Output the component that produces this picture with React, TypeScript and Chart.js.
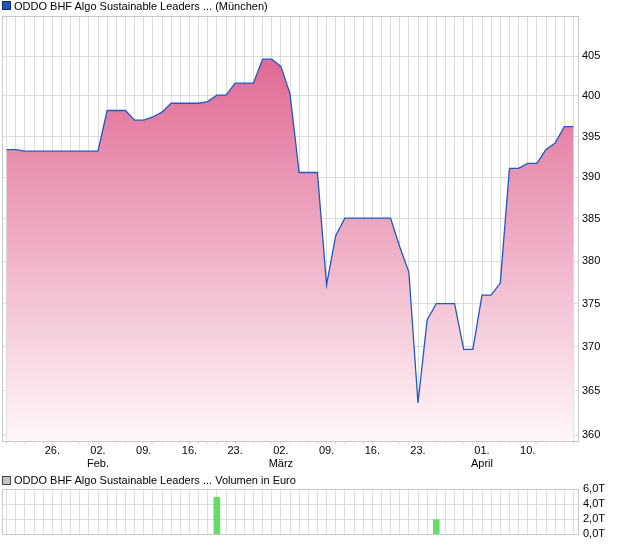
import React, { useEffect, useRef } from "react";
import { Chart, registerables } from "chart.js";

Chart.register(...registerables);

// Trading days (categories)
const dates: string[] = [
  "2026-01-19", "2026-01-20", "2026-01-21", "2026-01-22", "2026-01-23",
  "2026-01-26", "2026-01-27", "2026-01-28", "2026-01-29", "2026-01-30",
  "2026-02-02", "2026-02-03", "2026-02-04", "2026-02-05", "2026-02-06",
  "2026-02-09", "2026-02-10", "2026-02-11", "2026-02-12", "2026-02-13",
  "2026-02-16", "2026-02-17", "2026-02-18", "2026-02-19", "2026-02-20",
  "2026-02-23", "2026-02-24", "2026-02-25", "2026-02-26", "2026-02-27",
  "2026-03-02", "2026-03-03", "2026-03-04", "2026-03-05", "2026-03-06",
  "2026-03-09", "2026-03-10", "2026-03-11", "2026-03-12", "2026-03-13",
  "2026-03-16", "2026-03-17", "2026-03-18", "2026-03-19", "2026-03-20",
  "2026-03-23", "2026-03-24", "2026-03-25", "2026-03-26", "2026-03-27",
  "2026-03-30", "2026-03-31", "2026-04-01", "2026-04-02", "2026-04-07",
  "2026-04-08", "2026-04-09", "2026-04-10", "2026-04-13", "2026-04-14",
  "2026-04-15", "2026-04-16", "2026-04-17",
];

// Price (München)
const prices: number[] = [
  393.4, 393.4, 393.2, 393.2, 393.2, 393.2, 393.2, 393.2, 393.2, 393.2,
  393.2, 398.2, 398.2, 398.2, 397.0, 397.0, 397.4, 398.0, 399.1, 399.1,
  399.1, 399.1, 399.3, 400.1, 400.1, 401.6, 401.6, 401.6, 404.6, 404.6,
  403.7, 400.3, 390.6, 390.6, 390.6, 377.2, 383.0, 385.1, 385.1, 385.1,
  385.1, 385.1, 385.1, 381.7, 378.7, 363.6, 373.1, 375.0, 375.0, 375.0,
  369.7, 369.7, 376.0, 376.0, 377.4, 391.1, 391.1, 391.7, 391.7, 393.4,
  394.2, 396.2, 396.2,
];

// Volume in Euro
const volumes: number[] = [
  0, 0, 0, 0, 0, 0, 0, 0, 0, 0,
  0, 0, 0, 0, 0, 0, 0, 0, 0, 0,
  0, 0, 0, 4900, 0, 0, 0, 0, 0, 0,
  0, 0, 0, 0, 0, 0, 0, 0, 0, 0,
  0, 0, 0, 0, 0, 0, 0, 1950, 0, 0,
  0, 0, 0, 0, 0, 0, 0, 0, 0, 0,
  0, 0, 0,
];

// X tick labels
const xTickDates: string[] = [
  "2026-01-26", "2026-02-02", "2026-02-09", "2026-02-16", "2026-02-23",
  "2026-03-02", "2026-03-09", "2026-03-16", "2026-03-23", "2026-04-01", "2026-04-10",
];
const xTickTexts: (string | string[])[] = [
  "26.", ["02.", "Feb."], "09.", "16.", "23.",
  ["02.", "März"], "09.", "16.", "23.", ["01.", "April"], "10.",
];

// Y ticks
const priceTicks: number[] = [360, 365, 370, 375, 380, 385, 390, 395, 400, 405];
const priceMin = 359.33;
const priceMax = 410.07;
const volumeTicks: number[] = [0, 2000, 4000, 6000];
const volumeTickTexts: string[] = ["0,0T", "2,0T", "4,0T", "6,0T"];

const GRID = "#dcdcdc";
const FRAME = "#c8c8c8";
const FONT = "'Liberation Sans', Arial, sans-serif";

const framePlugin = {
  id: "frame",
  afterDatasetsDraw(chart: any) {
    const { ctx, chartArea } = chart;
    const { left, top, right, bottom } = chartArea;
    ctx.save();
    ctx.strokeStyle = FRAME;
    ctx.lineWidth = 1;
    ctx.strokeRect(
      Math.round(left) + 0.5,
      Math.round(top) + 0.5,
      Math.round(right) - Math.round(left),
      Math.round(bottom) - Math.round(top)
    );
    ctx.restore();
  },
};

function xLabel(i: number): string | string[] {
  const k = xTickDates.indexOf(dates[i]);
  return k >= 0 ? xTickTexts[k] : "";
}

export default function App() {
  const mainRef = useRef<HTMLCanvasElement | null>(null);
  const volRef = useRef<HTMLCanvasElement | null>(null);

  useEffect(() => {
    Chart.defaults.font.family = FONT;
    const main = new Chart(mainRef.current as HTMLCanvasElement, {
      type: "line",
      data: {
        labels: dates,
        datasets: [
          {
            data: prices,
            borderColor: "#1f57c8",
            borderWidth: 1.3,
            pointRadius: 0,
            tension: 0,
            fill: "start",
            backgroundColor: (c: any) => {
              const chart = c.chart;
              const a = chart.chartArea;
              if (!a) return "rgba(0,0,0,0)";
              const g = chart.ctx.createLinearGradient(0, a.top, 0, a.bottom);
              g.addColorStop(0, "#dc5a89");
              g.addColorStop(1, "#fff7fa");
              return g;
            },
          },
        ],
      },
      options: {
        responsive: false,
        animation: false,
        devicePixelRatio: 1,
        layout: { padding: { left: 2, top: 16, right: 0, bottom: 0 } },
        plugins: { legend: { display: false }, tooltip: { enabled: false } },
        scales: {
          x: {
            type: "category",
            offset: true,
            grid: { color: GRID, offset: false, drawTicks: true, tickLength: 3 },
            border: { display: false },
            ticks: {
              autoSkip: false,
              maxRotation: 0,
              minRotation: 0,
              padding: 0,
              color: "#000",
              font: { size: 11 },
              callback: (_v: any, i: number) => xLabel(i),
            },
            afterFit: (s: any) => {
              s.height = 34;
            },
          },
          y: {
            type: "logarithmic",
            position: "right",
            min: priceMin,
            max: priceMax,
            grid: { color: GRID, drawTicks: false },
            border: { display: false },
            afterBuildTicks: (s: any) => {
              s.ticks = priceTicks.map((v) => ({ value: v }));
            },
            ticks: {
              padding: 4,
              color: "#000",
              font: { size: 11 },
              callback: (v: any) => String(v),
            },
            afterFit: (s: any) => {
              s.width = 42;
            },
          },
        },
      },
      plugins: [framePlugin],
    });

    const vol = new Chart(volRef.current as HTMLCanvasElement, {
      type: "bar",
      data: {
        labels: dates,
        datasets: [
          {
            data: volumes,
            backgroundColor: "#66db66",
            borderWidth: 0,
            barThickness: 6,
          },
        ],
      },
      options: {
        responsive: false,
        animation: false,
        devicePixelRatio: 1,
        layout: { padding: { left: 2, top: 19, right: 0, bottom: 0 } },
        plugins: { legend: { display: false }, tooltip: { enabled: false } },
        scales: {
          x: {
            type: "category",
            offset: true,
            grid: { color: GRID, offset: false, drawTicks: false },
            border: { display: false },
            ticks: { display: false },
            afterFit: (s: any) => {
              s.height = 9;
            },
          },
          y: {
            position: "right",
            min: 0,
            max: 6000,
            grid: { color: GRID, drawTicks: false },
            border: { display: false },
            afterBuildTicks: (s: any) => {
              s.ticks = volumeTicks.map((v) => ({ value: v }));
            },
            ticks: {
              padding: 5,
              color: "#000",
              font: { size: 11 },
              callback: (v: any) => {
                const k = volumeTicks.indexOf(Number(v));
                return k >= 0 ? volumeTickTexts[k] : "";
              },
            },
            afterFit: (s: any) => {
              s.width = 42;
            },
          },
        },
      },
      plugins: [framePlugin],
    });

    return () => {
      main.destroy();
      vol.destroy();
    };
  }, []);

  const legendText: React.CSSProperties = {
    position: "absolute",
    left: 14,
    fontFamily: FONT,
    fontSize: 11,
    lineHeight: "13px",
    color: "#000",
    whiteSpace: "nowrap",
  };
  const square: React.CSSProperties = {
    position: "absolute",
    left: 2,
    width: 7,
    height: 7,
    boxSizing: "content-box",
  };

  return (
    <div
      style={{
        position: "fixed",
        left: 0,
        top: 0,
        width: 620,
        height: 546,
        background: "#fff",
        overflow: "hidden",
      }}
    >
      <canvas
        ref={mainRef}
        width={620}
        height={475}
        style={{ position: "absolute", left: 0, top: 0, width: 620, height: 475 }}
      />
      <canvas
        ref={volRef}
        width={620}
        height={76}
        style={{ position: "absolute", left: 0, top: 470, width: 620, height: 76 }}
      />
      <div style={{ ...square, top: 1, background: "#1f54b8", border: "1px solid #0b2a6a" }} />
      <div style={{ ...legendText, top: 0 }}>
        ODDO BHF Algo Sustainable Leaders ... (München)
      </div>
      <div style={{ ...square, top: 476, background: "#c4c4c4", border: "1px solid #444" }} />
      <div style={{ ...legendText, top: 474 }}>
        ODDO BHF Algo Sustainable Leaders ... Volumen in Euro
      </div>
    </div>
  );
}
